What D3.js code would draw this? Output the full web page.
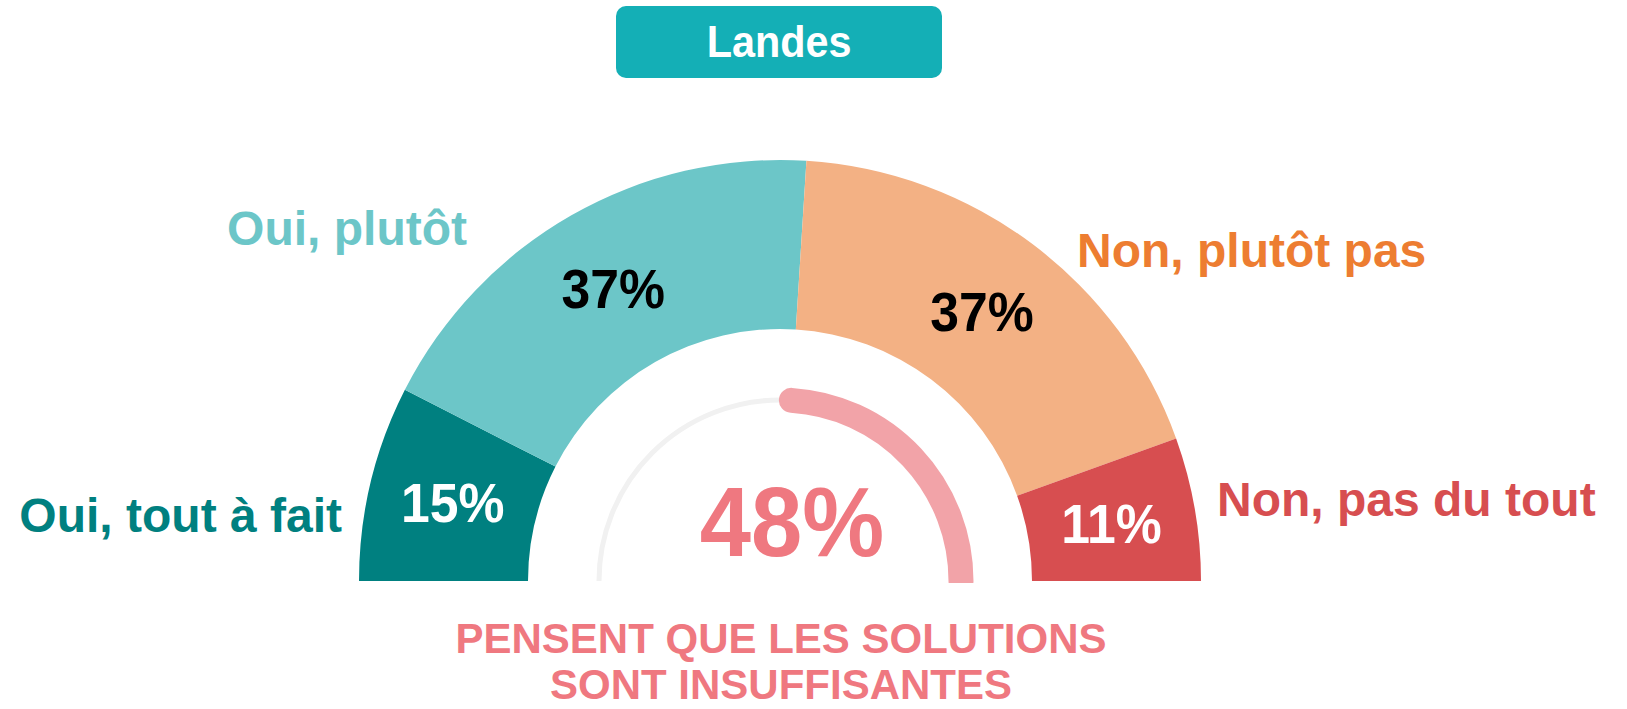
<!DOCTYPE html>
<html>
<head>
<meta charset="utf-8">
<script src="https://cdn.jsdelivr.net/npm/d3@7"></script>
<style>
  html, body { margin: 0; padding: 0; background: #ffffff; }
  svg { display: block; }
  text { font-family: "Liberation Sans", Arial, Helvetica, sans-serif; font-weight: bold; }
</style>
</head>
<body>
<div id="chart"></div>
<script>
// ---- Data ----
const title = "Landes";
const categories = ["Oui, tout à fait", "Oui, plutôt", "Non, plutôt pas", "Non, pas du tout"];
const values = [15, 37, 37, 11];
const segmentColors = ["#008080", "#6CC6C8", "#F3B184", "#D74E50"];
const categoryColors = ["#008080", "#6CC6C8", "#ED7D31", "#D74E50"];
const valueTextColors = ["#FFFFFF", "#000000", "#000000", "#FFFFFF"];
const gaugeValue = 48;
const gaugeLabel = ["PENSENT QUE LES SOLUTIONS", "SONT INSUFFISANTES"];

// ---- Layout ----
const W = 1627, H = 709;
const cx = 780, cy = 581;
const outerR = 421, innerR = 252;
const gaugeR = 181, gaugeW = 25;
const narrow = 0.94;
const layout = {
  titleBox: { x: 616, y: 6, w: 326, h: 72, rx: 10, fill: "#14AFB6" },
  categoryLabels: [
    { x: 342, y: 532, anchor: "end" },
    { x: 467, y: 245, anchor: "end" },
    { x: 1077, y: 267, anchor: "start" },
    { x: 1217, y: 516, anchor: "start" }
  ]
};

const svg = d3.select("#chart").append("svg")
  .attr("width", W).attr("height", H);

// Title box
svg.append("rect")
  .attr("x", layout.titleBox.x).attr("y", layout.titleBox.y)
  .attr("width", layout.titleBox.w).attr("height", layout.titleBox.h)
  .attr("rx", layout.titleBox.rx).attr("fill", layout.titleBox.fill);
svg.append("text")
  .attr("transform", `translate(${layout.titleBox.x + layout.titleBox.w / 2},56.5) scale(${narrow},1)`)
  .attr("text-anchor", "middle")
  .attr("fill", "#FFFFFF")
  .attr("font-size", 44)
  .text(title);

// Half donut
const pie = d3.pie().sort(null).value(d => d)
  .startAngle(-Math.PI / 2).endAngle(Math.PI / 2);
const arcs = pie(values);
const arc = d3.arc().innerRadius(innerR).outerRadius(outerR);

const g = svg.append("g").attr("transform", `translate(${cx},${cy})`);
g.selectAll("path.seg").data(arcs).enter().append("path")
  .attr("class", "seg")
  .attr("d", arc)
  .attr("fill", (d, i) => segmentColors[i]);

// value labels
g.selectAll("text.val").data(arcs).enter().append("text")
  .attr("class", "val")
  .attr("transform", d => {
    const c = arc.centroid(d);
    return `translate(${c[0]},${c[1] + 19.5}) scale(${narrow},1)`;
  })
  .attr("text-anchor", "middle")
  .attr("font-size", 55)
  .attr("fill", (d, i) => valueTextColors[i])
  .text(d => d.data + "%");

// category labels
svg.selectAll("text.cat").data(categories).enter().append("text")
  .attr("class", "cat")
  .attr("x", (d, i) => layout.categoryLabels[i].x)
  .attr("y", (d, i) => layout.categoryLabels[i].y)
  .attr("text-anchor", (d, i) => layout.categoryLabels[i].anchor)
  .attr("font-size", 48)
  .attr("fill", (d, i) => categoryColors[i])
  .text(d => d);

// Gauge
svg.append("clipPath").attr("id", "gclip")
  .append("rect").attr("x", 0).attr("y", 0).attr("width", W).attr("height", cy + 2);

const gauge = svg.append("g").attr("clip-path", "url(#gclip)");
const angle = d3.scaleLinear().domain([0, 100]).range([0, Math.PI]);

const track = d3.path();
track.arc(cx, cy, gaugeR, -Math.PI, 0, false);
gauge.append("path").attr("d", track.toString())
  .attr("fill", "none").attr("stroke", "#F1F1F1").attr("stroke-width", 5);

const bar = d3.path();
const a0 = -angle(gaugeValue);
bar.moveTo(cx + gaugeR * Math.cos(a0), cy + gaugeR * Math.sin(a0));
bar.arc(cx, cy, gaugeR, a0, 0, false);
gauge.append("path").attr("d", bar.toString())
  .attr("fill", "none").attr("stroke", "#F2A3A8")
  .attr("stroke-width", gaugeW).attr("stroke-linecap", "round");

svg.append("text")
  .attr("transform", `translate(${cx + 12},556) scale(${narrow},1)`)
  .attr("text-anchor", "middle")
  .attr("font-size", 98)
  .attr("fill", "#EF7880")
  .text(gaugeValue + "%");

svg.selectAll("text.sub").data(gaugeLabel).enter().append("text")
  .attr("class", "sub")
  .attr("x", cx + 1)
  .attr("y", (d, i) => 653 + i * 46)
  .attr("text-anchor", "middle")
  .attr("font-size", 42)
  .attr("fill", "#EF7880")
  .text(d => d);
</script>
</body>
</html>
